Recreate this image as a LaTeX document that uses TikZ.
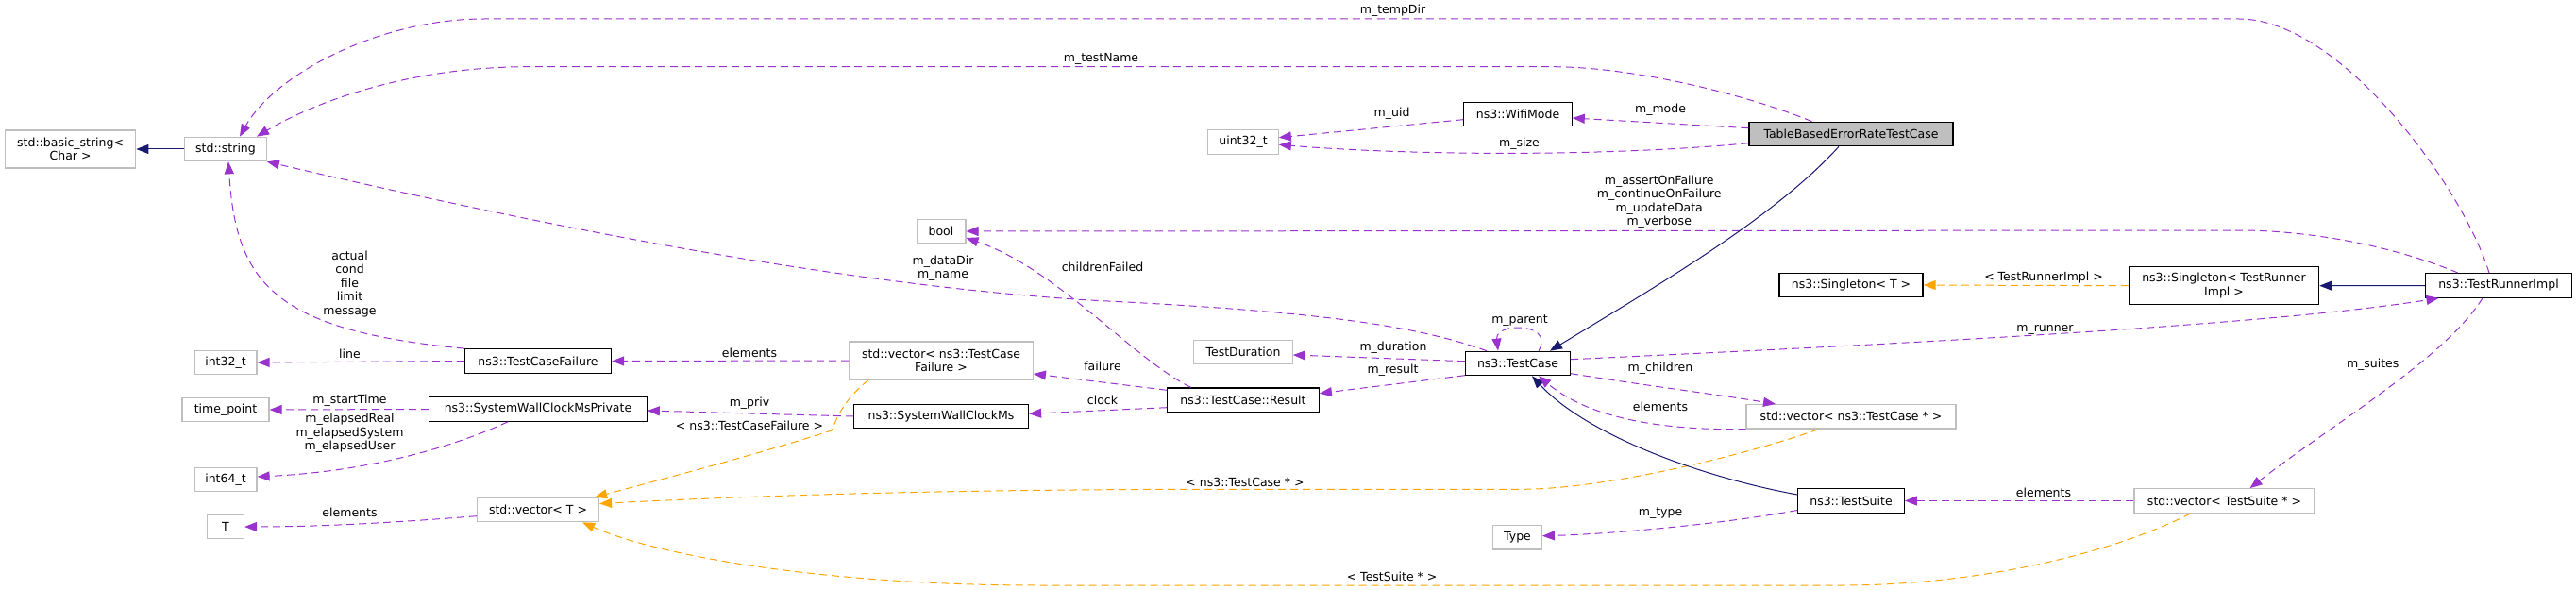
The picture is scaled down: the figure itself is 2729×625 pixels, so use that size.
\documentclass[tikz,border=0pt]{standalone}
\usepackage{fontspec}
\setmainfont{DejaVu Sans}
\usetikzlibrary{arrows.meta,calc}
\definecolor{edgepurple}{HTML}{9A32CD}
\definecolor{edgenavy}{HTML}{191970}
\definecolor{edgeorange}{HTML}{FFA500}
\definecolor{greyline}{HTML}{BFBFBF}
\begin{document}
\begin{tikzpicture}[x=1bp,y=-1bp,
  every node/.style={font=\fontsize{12.5bp}{14.5bp}\selectfont, inner sep=0pt},
  cls/.style={draw=black, line width=1.2bp, fill=white, align=center, minimum height=25.5bp},
  ext/.style={draw=greyline, line width=1.2bp, fill=white, align=center, minimum height=25.5bp},
  focus/.style={cls, fill=greyline},
  twoline/.style={minimum height=40bp},
  usage/.style={draw=edgepurple, line width=1bp, dash pattern=on 8bp off 5bp, -{Triangle[length=13bp,width=10bp]}},
  inherit/.style={draw=edgenavy, line width=1bp, -{Triangle[length=13bp,width=10bp]}},
  tmpl/.style={draw=edgeorange, line width=1bp, dash pattern=on 8bp off 5bp, -{Triangle[length=13bp,width=10bp]}},
  lbl/.style={align=center}
]
\useasboundingbox (0,0) rectangle (2729,625);
% ---------- nodes ----------
\node[ext, twoline, minimum width=138.4bp] (basic) at (74.6,158) {std::basic\_string<\\Char >};
\node[ext, minimum width=86.5bp] (string) at (239,158) {std::string};
\node[ext, minimum width=66bp] (int32) at (239,384) {int32\_t};
\node[ext, minimum width=92bp] (timept) at (239,434) {time\_point};
\node[ext, minimum width=66bp] (int64) at (239,508) {int64\_t};
\node[ext, minimum width=39bp] (T) at (239,558) {T};
\node[cls, minimum width=155bp] (tcf) at (570,382.5) {ns3::TestCaseFailure};
\node[cls, minimum width=230.5bp] (swcmp) at (570,433.5) {ns3::SystemWallClockMsPrivate};
\node[ext, minimum width=129bp] (vecT) at (570,540) {std::vector< T >};
\node[ext, twoline, minimum width=194.6bp] (vecTCF) at (997,382) {std::vector< ns3::TestCase\\Failure >};
\node[cls, minimum width=185bp] (swcm) at (997,441) {ns3::SystemWallClockMs};
\node[ext, minimum width=51.8bp] (bool) at (997,245) {bool};
\node[ext, minimum width=74.5bp] (uint32) at (1317,150.5) {uint32\_t};
\node[ext, minimum width=104.4bp] (dur) at (1317,373) {TestDuration};
\node[cls, minimum width=160.6bp] (result) at (1317,423.7) {ns3::TestCase::Result};
\node[cls, minimum width=114.4bp] (wifi) at (1608,121) {ns3::WifiMode};
\node[cls, minimum width=111bp] (tc) at (1608,385) {ns3::TestCase};
\node[ext, minimum width=51.7bp] (type) at (1607.5,569.3) {Type};
\node[focus, minimum width=216bp] (tbe) at (1961,142) {TableBasedErrorRateTestCase};
\node[cls, minimum width=152bp] (singT) at (1961,302) {ns3::Singleton< T >};
\node[ext, minimum width=222bp] (vecTC) at (1961,441.3) {std::vector< ns3::TestCase * >};
\node[cls, minimum width=112.5bp] (suite) at (1961,530.5) {ns3::TestSuite};
\node[cls, twoline, minimum width=201.3bp] (singTR) at (2356,302.7) {ns3::Singleton< TestRunner\\Impl >};
\node[ext, minimum width=191bp] (vecTS) at (2356.5,530.5) {std::vector< TestSuite * >};
\node[cls, minimum width=154.5bp] (runner) at (2647,302.5) {ns3::TestRunnerImpl};
% ---------- edges ----------
\draw[inherit] (string.west) -- (basic.east);
\draw[usage] ([xshift=-10bp]runner.north) .. controls (2610,200) and (2480,20) .. (2372,20) -- (513,20) .. controls (400,20) and (290,80) .. ([xshift=15bp]string.north);
\draw[usage] ([xshift=-41.6bp]tbe.north) .. controls (1850,100) and (1730,70.7) .. (1644,70.7) -- (560,70.7) .. controls (430,70.7) and (330,110) .. ([xshift=33bp]string.north);
\draw[usage] ([xshift=-33bp]tc.north) .. controls (1500,345) and (1400,330) .. (1154,318) .. controls (900,302) and (600,245) .. (string.south east);
\draw[usage] (tcf.north west) .. controls (290,350) and (250,300) .. ([xshift=3bp]string.south);
\draw[usage] (tcf.west) -- (int32.east);
\draw[usage] (swcmp.west) -- (timept.east);
\draw[usage] ([xshift=-32bp]swcmp.south) .. controls (470,478) and (380,500) .. ([yshift=3bp]int64.east);
\draw[usage] ([yshift=-6.7bp]vecT.west) .. controls (400,555) and (330,558) .. (T.east);
\draw[usage] (vecTCF.west) -- (tcf.east);
\draw[usage] (swcm.west) -- ([yshift=-1.5bp]swcmp.east);
\draw[tmpl] ([xshift=-77bp]vecTCF.south) .. controls (892,425) and (886,445) .. (881,456) .. controls (800,482) and (700,508) .. ([xshift=-5bp]vecT.north east);
\draw[tmpl] ([xshift=-34.4bp]vecTC.south) .. controls (1850,482) and (1700,518.3) .. (1611,518.3) -- (1300,518.3) .. controls (1000,518.3) and (800,525) .. ([yshift=6.5bp]vecT.east);
\draw[tmpl] ([xshift=-35.7bp]vecTS.south) .. controls (2240,585) and (2100,620) .. (1950,620) -- (1100,620) .. controls (880,620) and (700,590) .. ([xshift=-18bp]vecT.south east);
\draw[usage] ([yshift=10.4bp]result.west) -- ([yshift=-14bp]vecTCF.east);
\draw[usage] ([yshift=-8bp]result.west) -- ([yshift=2.7bp]swcm.east);
\draw[usage] ([xshift=-55.4bp]result.north) .. controls (1200,380) and (1120,285) .. ([yshift=-7bp]bool.east);
\draw[usage] ([xshift=-43bp]runner.north) .. controls (2540,262) and (2450,244) .. (2372,244) -- (bool.east);
\draw[usage] ([yshift=6.3bp]tbe.west) -- ([yshift=-4bp]wifi.east);
\draw[usage] ([yshift=-5.7bp]wifi.west) -- ([yshift=4.8bp]uint32.east);
\draw[usage] ([yshift=-9.7bp]tbe.west) .. controls (1700,166) and (1500,165) .. ([yshift=-2.8bp]uint32.east);
\draw[inherit] ([xshift=-13bp]tbe.south) .. controls (1880,230) and (1760,300) .. ([xshift=34bp]tc.north);
\draw[inherit] ([yshift=6.5bp]suite.west) .. controls (1800,505) and (1680,460) .. ([xshift=15bp]tc.south);
\draw[usage] (vecTC.south west) .. controls (1750,456) and (1680,440) .. ([xshift=22bp]tc.south);
\draw[usage] ([yshift=-10.7bp]tc.east) .. controls (1740,408) and (1820,418) .. ([xshift=-80bp]vecTC.north);
\draw[usage] ([xshift=22bp]tc.north) .. controls (1640,355) and (1625,347) .. (1608,347) .. controls (1590,347) and (1585,355) .. ([xshift=-21bp]tc.north);
\draw[usage] ([yshift=2.3bp]tc.west) -- ([yshift=-3bp]dur.east);
\draw[usage] ([yshift=-12.7bp]tc.west) -- ([yshift=7bp]result.east);
\draw[usage] ([yshift=4.3bp]tc.east) .. controls (2000,365) and (2400,345) .. ([xshift=-63.5bp]runner.south);
\draw[usage] ([xshift=-17bp]runner.south) .. controls (2590,380) and (2470,450) .. ([xshift=27bp]vecTS.north);
\draw[usage] (vecTS.west) -- (suite.east);
\draw[usage] ([yshift=-10bp]suite.west) .. controls (1820,556) and (1700,566) .. ([yshift=1.6bp]type.east);
\draw[inherit] (runner.west) -- (singTR.east);
\draw[tmpl] (singTR.west) -- (singT.east);
% ---------- labels ----------
\node[lbl] (lTemp) at (1475.5,11.7) {m\_tempDir};
\node[lbl] (lTest) at (1166.5,62.7) {m\_testName};
\node[lbl] (lData) at (999,284) {m\_dataDir\\m\_name};
\node[lbl] (lAct) at (370.5,301) {actual\\cond\\file\\limit\\message};
\node[lbl] (lLine) at (370.5,375) {line};
\node[lbl] (lStart) at (370.5,424) {m\_startTime};
\node[lbl] (lElap) at (370.5,459) {m\_elapsedReal\\m\_elapsedSystem\\m\_elapsedUser};
\node[lbl] (lElT) at (370.5,543) {elements};
\node[lbl] (lElTCF) at (794,374) {elements};
\node[lbl] (lPriv) at (794,427.7) {m\_priv};
\node[lbl] (lTCFt) at (794,450.7) {< ns3::TestCaseFailure >};
\node[lbl] (lTCt) at (1319,510.7) {< ns3::TestCase * >};
\node[lbl] (lTSt) at (1474.6,611) {< TestSuite * >};
\node[lbl] (lFail) at (1168,388) {failure};
\node[lbl] (lClock) at (1168,424) {clock};
\node[lbl] (lChild) at (1168,283) {childrenFailed};
\node[lbl] (lBools) at (1757.7,213.7) {m\_assertOnFailure\\m\_continueOnFailure\\m\_updateData\\m\_verbose};
\node[lbl] (lMode) at (1759,116.7) {m\_mode};
\node[lbl] (lUid) at (1474.6,120) {m\_uid};
\node[lbl] (lSize) at (1609.5,152.7) {m\_size};
\node[lbl] (lElTC) at (1759,430.7) {elements};
\node[lbl] (lChildren) at (1759,390.7) {m\_children};
\node[lbl] (lParent) at (1610,339.3) {m\_parent};
\node[lbl] (lDur) at (1476,368.3) {m\_duration};
\node[lbl] (lRes) at (1475.5,392.3) {m\_result};
\node[lbl] (lRun) at (2166.4,349) {m\_runner};
\node[lbl] (lSuites) at (2513.7,386.7) {m\_suites};
\node[lbl] (lElTS) at (2165,522.3) {elements};
\node[lbl] (lType) at (1759,544) {m\_type};
\node[lbl] (lTRI) at (2165,294.3) {< TestRunnerImpl >};
\end{tikzpicture}
\end{document}
